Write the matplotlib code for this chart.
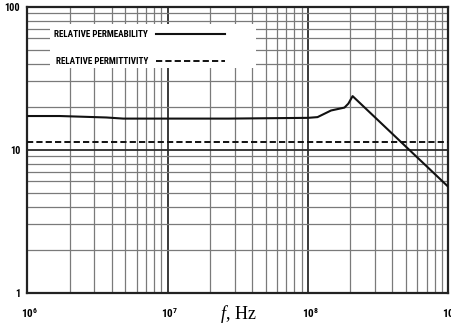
import matplotlib
matplotlib.use('Agg')
import matplotlib.pyplot as plt
import matplotlib.transforms as mtransforms
from matplotlib import font_manager
from matplotlib.patches import Rectangle
from matplotlib.ticker import LogLocator, FixedLocator, NullFormatter

# datos
frecuencia = [1e6, 1.7e6, 3.66e6, 4.83e6, 1.35e7, 2.72e7, 1e8, 1.17e8,
              1.46e8, 1.82e8, 1.94e8, 2.08e8, 1e9]
permeabilidad = [17.2, 17.2, 16.8, 16.5, 16.5, 16.5, 16.7, 16.9,
                 18.8, 19.7, 21.0, 23.7, 5.5]
frec_permitividad = [1e6, 1e9]
permitividad = [11.3, 11.3]

etiquetas_x = ['$10^6$', '$10^7$', '$10^8$', '$10^9$']
etiquetas_y = ['1', '10', '100']

# fuente angosta, la primera que exista
nombres = {f.name for f in font_manager.fontManager.ttflist}
candidatas = ['DejaVu Sans Condensed', 'Liberation Sans Narrow', 'Roboto Condensed',
              'Open Sans Condensed', 'Roboto', 'DejaVu Sans']
angosta = [c for c in candidatas if c in nombres][0]

plt.rcParams['mathtext.fontset'] = 'custom'
plt.rcParams['mathtext.rm'] = f'{angosta}:bold'
plt.rcParams['mathtext.it'] = 'Liberation Serif:italic'

fig = plt.figure(figsize=(4.52, 3.31), dpi=100)
ax = fig.add_axes([27.3 / 452, 1 - 292.7 / 331, (448.3 - 27.3) / 452, (292.7 - 6.7) / 331])

ax.plot(frecuencia, permeabilidad, color='#111111', lw=1.5, label='RELATIVE PERMEABILITY', zorder=4)
ax.plot(frec_permitividad, permitividad, color='#111111', lw=1.4, ls=(0, (3.2, 1.6)),
        label='RELATIVE PERMITTIVITY', zorder=4)

ax.set_xscale('log')
ax.set_yscale('log')
ax.set_xlim(1e6, 1e9)
ax.set_ylim(1, 100)

ax.xaxis.set_major_locator(FixedLocator([1e6, 1e7, 1e8, 1e9]))
ax.yaxis.set_major_locator(FixedLocator([1, 10, 100]))
ax.xaxis.set_minor_locator(LogLocator(base=10, subs=range(2, 10)))
ax.yaxis.set_minor_locator(LogLocator(base=10, subs=range(2, 10)))
ax.xaxis.set_minor_formatter(NullFormatter())
ax.yaxis.set_minor_formatter(NullFormatter())
ax.set_xticklabels(etiquetas_x)
ax.set_yticklabels(etiquetas_y)

ax.grid(True, which='major', color='#2a2a2a', lw=1.3)
ax.grid(True, which='minor', color='#7a7a7a', lw=0.9)
ax.tick_params(which='both', length=0)
ax.tick_params(axis='x', pad=10, labelsize=8)
ax.tick_params(axis='y', pad=5, labelsize=7.5)
for lab in ax.get_yticklabels():
    lab.set_fontfamily(angosta)
    lab.set_fontweight('bold')
desplaza = mtransforms.ScaledTranslation(2 / 100, 0, fig.dpi_scale_trans)
for lab in ax.get_xticklabels():
    lab.set_transform(lab.get_transform() + desplaza)

for lado in ax.spines.values():
    lado.set_linewidth(1.6)
    lado.set_color('#222222')

ax.set_xlabel(r'$f$, Hz', fontsize=13, fontfamily='Liberation Serif', labelpad=-12)

# recuadro blanco detras de la leyenda
ax.add_patch(Rectangle((0.054, 0.786), 0.489, 0.154, transform=ax.transAxes,
                       facecolor='white', edgecolor='none', zorder=3))
leyenda = ax.legend(loc='upper left', bbox_to_anchor=(0.047, 0.945), markerfirst=False,
                    frameon=False,
                    prop={'family': angosta, 'weight': 'bold', 'size': 6.6},
                    handlelength=7.6, handletextpad=0.8, labelspacing=2.0,
                    borderpad=0.8, borderaxespad=0)
leyenda.set_zorder(5)

fig.savefig('out.png', dpi=100)
